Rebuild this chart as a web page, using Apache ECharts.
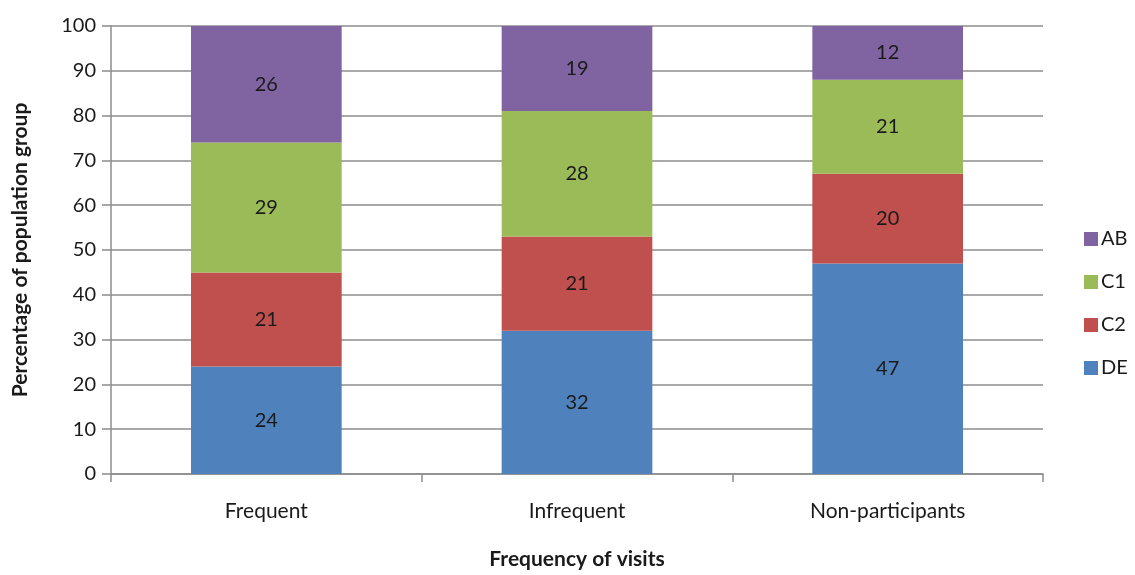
<!DOCTYPE html>
<html>
<head>
<meta charset="utf-8">
<script src="https://cdn.jsdelivr.net/npm/echarts@6/dist/echarts.min.js"></script>
<style>
  html, body { margin: 0; padding: 0; background: #fff; }
  #chart { width: 1135px; height: 575px; }
</style>
</head>
<body>
<div id="chart"></div>
<script>
// Frequency of visits by population group (percent)
const categories = ['Frequent', 'Infrequent', 'Non-participants'];
const groupDE = [24, 32, 47];
const groupC2 = [21, 21, 20];
const groupC1 = [29, 28, 21];
const groupAB = [26, 19, 12];
const yTicks = { min: 0, max: 100, interval: 10 };

const FONT = 'Lato, "Open Sans", "Liberation Sans", sans-serif';
const TEXT = '#1a1a1a';

function stackSeries(name, data, color) {
  return {
    name: name,
    type: 'bar',
    stack: 'total',
    data: data,
    barWidth: '48.5%',
    itemStyle: { color: color },
    label: {
      show: true,
      position: 'inside',
      color: TEXT,
      fontFamily: FONT,
      fontSize: 20
    }
  };
}

const chart = echarts.init(document.getElementById('chart'), null, { renderer: 'canvas' });
chart.setOption({
  animation: false,
  backgroundColor: '#fff',
  grid: { left: 111, right: 92, top: 26, bottom: 98 },
  legend: {
    orient: 'vertical',
    left: 1079,
    top: 224,
    itemWidth: 14,
    itemHeight: 14,
    itemGap: 23,
    icon: 'rect',
    data: ['AB', 'C1', 'C2', 'DE'],
    textStyle: { fontFamily: FONT, fontSize: 20, color: TEXT, padding: [0, 0, 0, -2] }
  },
  xAxis: {
    type: 'category',
    data: categories,
    name: 'Frequency of visits',
    nameLocation: 'middle',
    nameGap: 75,
    nameTextStyle: { fontFamily: FONT, fontSize: 21, fontWeight: 'bold', color: TEXT },
    axisLine: { lineStyle: { color: '#8c8c8c', width: 1.5 } },
    axisTick: { show: true, alignWithLabel: false, length: 8, lineStyle: { color: '#8c8c8c', width: 1.5 } },
    axisLabel: { fontFamily: FONT, fontSize: 21, color: TEXT, margin: 27 }
  },
  yAxis: {
    type: 'value',
    min: yTicks.min,
    max: yTicks.max,
    interval: yTicks.interval,
    name: 'Percentage of population group',
    nameLocation: 'middle',
    nameGap: 80,
    nameTextStyle: { fontFamily: FONT, fontSize: 21, fontWeight: 'bold', color: TEXT },
    axisLine: { show: true, lineStyle: { color: '#8c8c8c', width: 1.5 } },
    axisTick: { show: true, length: 9, lineStyle: { color: '#8c8c8c', width: 1.5 } },
    axisLabel: { fontFamily: FONT, fontSize: 20, color: TEXT, margin: 15 },
    splitLine: { show: true, lineStyle: { color: '#8c8c8c', width: 1.5 } }
  },
  series: [
    stackSeries('DE', groupDE, '#4F81BD'),
    stackSeries('C2', groupC2, '#C0504D'),
    stackSeries('C1', groupC1, '#9BBB59'),
    stackSeries('AB', groupAB, '#8064A2')
  ]
});
</script>
</body>
</html>
